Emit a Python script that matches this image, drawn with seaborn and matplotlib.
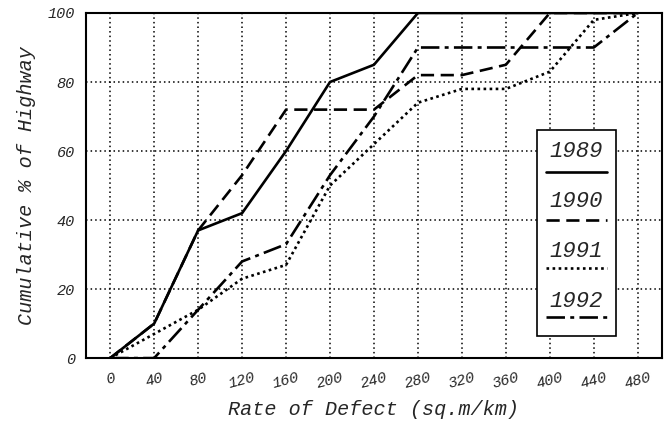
import matplotlib
matplotlib.use("Agg")
import matplotlib.pyplot as plt
import seaborn as sns
import pandas as pd
from matplotlib.patches import Rectangle
from matplotlib.lines import Line2D

rates = [0, 40, 80, 120, 160, 200, 240, 280, 320, 360, 400, 440, 480]
y1989 = [0, 10, 37, 42, 60, 80, 85, 100, 100, 100, 100, 100, 100]
y1990 = [0, 10, 37, 53, 72, 72, 72, 82, 82, 85, 100, 100, 100]
y1991 = [0, 7, 14, 23, 27, 50, 62, 74, 78, 78, 83, 98, 100]
y1992 = [0, 0, 14, 28, 33, 53, 70, 90, 90, 90, 90, 90, 100]
years = ["1989", "1990", "1991", "1992"]
series = [y1989, y1990, y1991, y1992]
xticks = [0, 40, 80, 120, 160, 200, 240, 280, 320, 360, 400, 440, 480]
yticks = [0, 20, 40, 60, 80, 100]

rows = []
for yr, vals in zip(years, series):
    for r, v in zip(rates, vals):
        rows.append({"rate": r, "pct": v, "year": yr})
df = pd.DataFrame(rows)

sns.set_style("white")
mono = {"family": "Liberation Mono", "style": "italic"}

fig = plt.figure(figsize=(6.72, 4.33), dpi=100)
ax = fig.add_axes([0.128, 0.173, 0.857, 0.797])

dashes = {"1989": "", "1990": (5, 2.5), "1991": (1, 1.3), "1992": (7, 2, 1.5, 2)}
sns.lineplot(data=df, x="rate", y="pct", style="year", dashes=dashes,
             color="black", linewidth=1.9, legend=False, ax=ax, estimator=None)

ax.set_xlim(-22, 502)
ax.set_ylim(0, 100)
ax.set_xticks(xticks)
ax.set_yticks(yticks)
ax.set_xticklabels([str(t) for t in xticks], rotation=15, fontdict=mono, fontsize=11)
ax.set_yticklabels([str(t) for t in yticks], fontdict=mono, fontsize=11)
ax.grid(True, color="black", linestyle=(0, (1, 2)), linewidth=1.1)
ax.tick_params(axis="x", length=0, pad=9)
ax.tick_params(axis="y", length=0, pad=8)
for s in ax.spines.values():
    s.set_color("black")
    s.set_linewidth(1.5)
ax.set_xlabel("Rate of Defect (sq.m/km)", fontdict=mono, fontsize=14.5, labelpad=6)
ax.set_ylabel("Cumulative % of Highway", fontdict=mono, fontsize=14.5, labelpad=8)

# manual legend box
x0, x1 = 0.783, 0.92
ax.add_patch(Rectangle((x0, 0.064), x1 - x0, 0.596, transform=ax.transAxes,
                       facecolor="white", edgecolor="black", linewidth=1.2, zorder=5))
text_y = [0.6, 0.455, 0.31, 0.165]
line_y = [0.54, 0.4, 0.26, 0.12]
for yr, ty, ly in zip(years, text_y, line_y):
    ax.text((x0 + x1) / 2, ty, yr, transform=ax.transAxes, ha="center", va="center",
            fontdict=mono, fontsize=16, zorder=6)
    ln = Line2D([x0 + 0.015, x1 - 0.015], [ly, ly], transform=ax.transAxes,
                color="black", linewidth=1.9, zorder=6)
    if dashes[yr]:
        ln.set_dashes(dashes[yr])
    ax.add_line(ln)

fig.savefig("out.png", dpi=100)
